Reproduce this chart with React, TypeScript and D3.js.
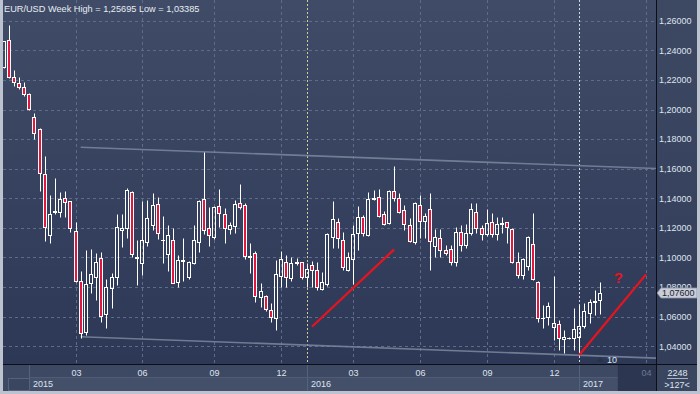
import * as d3 from 'd3';

// EUR/USD weekly candles (oldest first)
const opens = [
  1.2290, 1.2470, 1.2218, 1.2177, 1.2150, 1.2103, 1.1947, 1.1868, 1.1562, 1.1152,
  1.1308, 1.1310, 1.1400, 1.1382, 1.1179, 1.0841, 1.0499, 1.0826, 1.0866, 1.0999,
  1.0616, 1.0792, 1.0866, 1.1184, 1.1197, 1.1441, 1.1000, 1.0965, 1.1107, 1.1220,
  1.1359, 1.1120, 1.1022, 1.1118, 1.0836, 1.0985, 1.0870, 1.0965, 1.1103, 1.1393,
  1.1197, 1.1141, 1.1348, 1.1294, 1.1191, 1.1215, 1.1366, 1.1355, 1.1010, 1.1028,
  1.0731, 1.0740, 1.0645, 1.0589, 1.0875, 1.0972, 1.0859, 1.0963, 1.0968, 1.0866,
  1.0949, 1.0916, 1.0787, 1.0821, 1.1141, 1.1238, 1.1118, 1.0916, 1.0988, 1.1164,
  1.1272, 1.1152, 1.1395, 1.1411, 1.1292, 1.1231, 1.1451, 1.1400, 1.1321, 1.1220,
  1.1103, 1.1355, 1.1249, 1.1326, 1.1078, 1.1130, 1.1051, 1.1055, 1.0968, 1.1174,
  1.1084, 1.1164, 1.1310, 1.1197, 1.1157, 1.1238, 1.1157, 1.1228, 1.1238, 1.1191,
  1.0972, 1.0880, 1.0943, 1.1089, 1.0836, 1.0590, 1.0600, 1.0532, 1.0549, 1.0447,
  1.0455, 1.0454, 1.0461, 1.0537, 1.0623, 1.0698, 1.0713,
];
const highs = [
  1.2466, 1.25695, 1.2267, 1.2218, 1.2186, 1.2109, 1.1974, 1.1877, 1.1686, 1.1422,
  1.1535, 1.1443, 1.1449, 1.1385, 1.1242, 1.0909, 1.1051, 1.1055, 1.1028, 1.1035,
  1.0855, 1.0893, 1.1292, 1.1294, 1.1468, 1.1449, 1.1118, 1.1382, 1.1389, 1.1438,
  1.1407, 1.1280, 1.1220, 1.1197, 1.1017, 1.1130, 1.0978, 1.1220, 1.1389, 1.1715,
  1.1343, 1.1350, 1.1461, 1.1332, 1.1242, 1.1389, 1.1497, 1.1366, 1.1096, 1.1046,
  1.0826, 1.0747, 1.0691, 1.0983, 1.1046, 1.1017, 1.1005, 1.0999, 1.0972, 1.0965,
  1.0976, 1.0972, 1.0904, 1.1164, 1.1382, 1.1265, 1.1174, 1.1039, 1.1220, 1.1348,
  1.1287, 1.1445, 1.1456, 1.1461, 1.1314, 1.1456, 1.1618, 1.1434, 1.1355, 1.1265,
  1.1377, 1.1422, 1.1299, 1.1434, 1.1191, 1.1191, 1.1084, 1.1084, 1.1204, 1.1220,
  1.1226, 1.1366, 1.1366, 1.1220, 1.1326, 1.1299, 1.1276, 1.1276, 1.1242, 1.1197,
  1.1039, 1.0995, 1.1145, 1.1299, 1.0840, 1.0680, 1.0701, 1.0875, 1.0578, 1.0510,
  1.0463, 1.0657, 1.0679, 1.0691, 1.0718, 1.0780, 1.0832,
];
const lows = [
  1.2283, 1.2215, 1.2162, 1.2138, 1.2093, 1.2000, 1.1799, 1.1451, 1.1114, 1.1096,
  1.1292, 1.1272, 1.1276, 1.1172, 1.0837, 1.0458, 1.0476, 1.0762, 1.0713, 1.0566,
  1.0522, 1.0657, 1.0814, 1.1069, 1.1130, 1.1001, 1.0814, 1.0882, 1.1078, 1.1186,
  1.1125, 1.0965, 1.0911, 1.0826, 1.0803, 1.0843, 1.0853, 1.0956, 1.1035, 1.1157,
  1.1078, 1.1125, 1.1204, 1.1100, 1.1159, 1.1168, 1.1326, 1.0990, 1.0893, 1.0701,
  1.0668, 1.0641, 1.0566, 1.0510, 1.0803, 1.0799, 1.0843, 1.0949, 1.0853, 1.0803,
  1.0803, 1.0780, 1.0780, 1.0807, 1.1062, 1.1062, 1.0916, 1.0911, 1.0821, 1.1051,
  1.1145, 1.1145, 1.1389, 1.1272, 1.1220, 1.1224, 1.1382, 1.1299, 1.1186, 1.1107,
  1.1091, 1.1130, 1.1130, 1.0916, 1.1005, 1.1005, 1.1017, 1.0949, 1.0943, 1.1044,
  1.1066, 1.1152, 1.1164, 1.1118, 1.1145, 1.1141, 1.1118, 1.1164, 1.1100, 1.0961,
  1.0859, 1.0853, 1.0916, 1.0848, 1.0566, 1.0522, 1.0544, 1.0443, 1.0375, 1.0357,
  1.0449, 1.0375, 1.03385, 1.0522, 1.0555, 1.0613, 1.0618,
];
const closes = [
  1.2462, 1.2222, 1.2184, 1.2150, 1.2105, 1.2001, 1.1839, 1.1569, 1.1204, 1.1292,
  1.1312, 1.1393, 1.1377, 1.1197, 1.0843, 1.0492, 1.0819, 1.0886, 1.0972, 1.0605,
  1.0803, 1.0866, 1.1204, 1.1197, 1.1456, 1.1022, 1.0995, 1.1118, 1.1265, 1.1355,
  1.1164, 1.1115, 1.1152, 1.0830, 1.0983, 1.0978, 1.0968, 1.1118, 1.1384, 1.1186,
  1.1152, 1.1343, 1.1299, 1.1197, 1.1220, 1.1359, 1.1343, 1.1012, 1.1005, 1.0740,
  1.0774, 1.0650, 1.0596, 1.0889, 1.0988, 1.0866, 1.0961, 1.0967, 1.0866, 1.0920,
  1.0916, 1.0799, 1.0832, 1.1157, 1.1258, 1.1130, 1.0934, 1.1001, 1.1157, 1.1272,
  1.1164, 1.1393, 1.1400, 1.1282, 1.1226, 1.1451, 1.1400, 1.1305, 1.1226, 1.1114,
  1.1366, 1.1249, 1.1280, 1.1111, 1.1136, 1.1051, 1.1032, 1.0972, 1.1174, 1.1084,
  1.1164, 1.1326, 1.1197, 1.1157, 1.1231, 1.1157, 1.1224, 1.1232, 1.1204, 1.0972,
  1.0880, 1.0988, 1.1141, 1.0853, 1.0589, 1.0593, 1.0672, 1.0559, 1.0454, 1.0460,
  1.0458, 1.0515, 1.0537, 1.0641, 1.0701, 1.0703, 1.0760,
];

const title = 'EUR/USD Week High = 1,25695 Low = 1,03385';
const priceTicks = [1.04, 1.06, 1.08, 1.10, 1.12, 1.14, 1.16, 1.18, 1.20, 1.22, 1.24, 1.26];
const lastPrice = 1.076;

// bar index where each label sits
const monthLabels = ['03', '06', '09', '12', '03', '06', '09', '12', '04'];
const monthIndex = [14, 27, 41, 54, 68, 81, 94, 107, 125];
const yearLabels = ['2015', '2016', '2017'];
const yearIndex = [5, 59, 112];

// drawn annotations (bar index / price)
const channelIndex = [15, 127];
const channelUpper = [1.1745, 1.1601];
const channelLower = [1.0465, 1.0320];
const arrowOneIndex = [60, 76];
const arrowOnePrice = [1.0532, 1.1055];
const arrowTwoIndex = [112, 125];
const arrowTwoPrice = [1.0341, 1.0886];
const questionIndex = 119.6;
const questionPrice = 1.0870;

const W = 700;
const H = 394;
const plot = { left: 3, right: 656, top: 0, bottom: 364 };
const font = '"Liberation Sans", Arial, sans-serif';
const textColor = '#dfe4ee';

const fmt = (v: number) => d3.format('.5f')(v).replace('.', ',');

export default function App() {
  const x = d3.scaleLinear().domain([0, 125]).range([3.56, 646.06]);
  const y = d3.scaleLinear().domain([1.04, 1.26]).range([346.3, 20.7]);
  const px = (i: number) => Math.round(x(i)) + 0.5;
  const py = (v: number) => Math.round(y(v)) + 0.5;

  const candles = opens.map((o, i) => ({
    i, o, h: highs[i], l: lows[i], c: closes[i],
  }));

  const line = d3.line<[number, number]>().x(d => x(d[0])).y(d => y(d[1]));
  const zip = (a: number[], b: number[]) => a.map((v, k) => [v, b[k]] as [number, number]);

  const gridColor = '#5f6c88';
  const futureStart = x(candles.length - 1 + 3.5);

  return (
    <svg width={W} height={H} style={{ position: 'absolute', left: 0, top: 0 }}
      fontFamily={font}>
      <defs>
        <linearGradient id="bg" x1="0" y1="0" x2="0" y2="1">
          <stop offset="0" stopColor="#404c67" />
          <stop offset="1" stopColor="#2c3856" />
        </linearGradient>
        <linearGradient id="axbg" x1="0" y1="0" x2="0" y2="1">
          <stop offset="0" stopColor="#3d4963" />
          <stop offset="1" stopColor="#323e5a" />
        </linearGradient>
        <clipPath id="plotClip">
          <rect x={plot.left} y={plot.top} width={plot.right - plot.left} height={plot.bottom - plot.top} />
        </clipPath>
      </defs>

      {/* backgrounds */}
      <rect x={0} y={0} width={W} height={H} fill="#3c4862" />
      <rect x={plot.left} y={plot.top} width={plot.right - plot.left} height={plot.bottom - plot.top} fill="url(#bg)" />
      <rect x={plot.right} y={0} width={W - plot.right} height={plot.bottom} fill="url(#axbg)" />

      <g clipPath="url(#plotClip)">
        {/* grid */}
        {priceTicks.map(t => (
          <line key={t} x1={plot.left} x2={plot.right} y1={py(t)} y2={py(t)}
            stroke={gridColor} strokeDasharray="3,3" />
        ))}
        {monthIndex.map((m, k) => (
          <line key={'m' + k} x1={px(m)} x2={px(m)} y1={plot.top} y2={plot.bottom}
            stroke={gridColor} strokeDasharray="3,3" />
        ))}
        <line x1={px(yearIndex[1])} x2={px(yearIndex[1])} y1={plot.top} y2={plot.bottom}
          stroke="#d4cd98" strokeDasharray="2,2" />
        <line x1={px(yearIndex[2])} x2={px(yearIndex[2])} y1={plot.top} y2={plot.bottom}
          stroke="#d6dae2" strokeDasharray="2,2" />

        {/* channel */}
        <path d={line(zip(channelIndex, channelUpper)) ?? ''} fill="none" stroke="#7c879f" strokeWidth={1.6} opacity={0.85} />
        <path d={line(zip(channelIndex, channelLower)) ?? ''} fill="none" stroke="#7c879f" strokeWidth={1.6} opacity={0.85} />

        {/* candles */}
        {candles.map(d => {
          const cx = px(d.i);
          const top = py(Math.max(d.o, d.c));
          const bot = py(Math.min(d.o, d.c));
          const down = d.c < d.o;
          return (
            <g key={d.i}>
              <line x1={cx} x2={cx} y1={py(d.h)} y2={top} stroke="#fff" />
              <line x1={cx} x2={cx} y1={bot} y2={py(d.l)} stroke="#fff" />
              {bot - top < 1 ? (
                <line x1={cx - 2.5} x2={cx + 1.5} y1={top} y2={top} stroke="#fff" />
              ) : (
                <rect x={cx - 2} y={top} width={3} height={bot - top}
                  fill={down ? '#e3173d' : 'none'} stroke="#fff" />
              )}
            </g>
          );
        })}

        {/* annotations */}
        <path d={line(zip(arrowOneIndex, arrowOnePrice)) ?? ''} fill="none" stroke="#e5141e" strokeWidth={2.3} />
        <path d={line(zip(arrowTwoIndex, arrowTwoPrice)) ?? ''} fill="none" stroke="#e5141e" strokeWidth={2.3} />
        <text x={x(questionIndex)} y={y(questionPrice) + 6} textAnchor="middle" fontSize={15}
          fontWeight="bold" fill="#e5141e">?</text>

        <path d={`M${x(115.4)},${plot.bottom - 2}l3.5,-5l3.5,5z`} fill="#28324b" />
        <text x={x(117.4)} y={plot.bottom - 1.5} fontSize={9} fill={textColor}>10</text>
      </g>

      <text x={4} y={12} fontSize={9.2} fill="#e8ecf3">{title}</text>

      {/* price axis */}
      {priceTicks.map(t => (
        <text key={t} x={659} y={y(t) + 3.3} fontSize={9} fill={textColor}>{fmt(t)}</text>
      ))}
      <path d={`M657,${y(lastPrice)} L661,${y(lastPrice) - 5} L697,${y(lastPrice) - 5} L697,${y(lastPrice) + 5} L661,${y(lastPrice) + 5} Z`}
        fill="#c9ced8" stroke="#8d96a8" strokeWidth={0.8} />
      <text x={662} y={y(lastPrice) + 3.3} fontSize={9} fill="#1b2132">{fmt(lastPrice)}</text>

      {/* time axis */}
      <rect x={plot.left} y={plot.bottom} width={plot.right - plot.left} height={H - plot.bottom} fill="#3d4963" />
      <rect x={px(yearIndex[0])} y={378} width={plot.right - px(yearIndex[0])} height={13} fill="#44506a" />
      <line x1={px(yearIndex[0])} x2={plot.right} y1={377.5} y2={377.5} stroke="#4f5b75" />
      <rect x={8.5} y={378.5} width={21} height={12} fill="#3a4660" stroke="#56627b" />
      <rect x={futureStart} y={365} width={plot.right - futureStart} height={26} fill="#2c3650" />
      {yearIndex.map((yi, k) => (
        <g key={'y' + k}>
          <line x1={px(yi)} x2={px(yi)} y1={plot.bottom} y2={391} stroke="#56627b" />
          <text x={px(yi) + 3.5} y={387} fontSize={9} fill={textColor}>{yearLabels[k]}</text>
        </g>
      ))}
      {monthLabels.map((m, k) => (
        <text key={'ml' + k} x={px(monthIndex[k])} y={376} fontSize={9} textAnchor="middle"
          fill={k === monthLabels.length - 1 ? '#6c7891' : textColor}>{m}</text>
      ))}

      {/* corner panel */}
      <rect x={plot.right} y={plot.bottom} width={W - plot.right} height={H - plot.bottom} fill="#3a4660" />
      <text x={677.5} y={375.5} fontSize={9} textAnchor="middle" fill={textColor}>2248</text>
      <line x1={667} x2={688} y1={378.5} y2={378.5} stroke="#aab3c3" />
      <text x={677} y={387.5} fontSize={9} textAnchor="middle" fill={textColor}>&gt;127&lt;</text>

      {/* separators and frame */}
      <line x1={plot.right + 0.5} x2={plot.right + 0.5} y1={0} y2={391} stroke="#0c0f16" />
      <line x1={plot.left} x2={697} y1={plot.bottom + 0.5} y2={plot.bottom + 0.5} stroke="#0c0f16" />
      <rect x={0} y={0} width={3} height={H} fill="#bcc3cf" />
      <rect x={697} y={0} width={3} height={H} fill="#bcc3cf" />
      <rect x={0} y={391} width={W} height={3} fill="#bcc3cf" />
    </svg>
  );
}
